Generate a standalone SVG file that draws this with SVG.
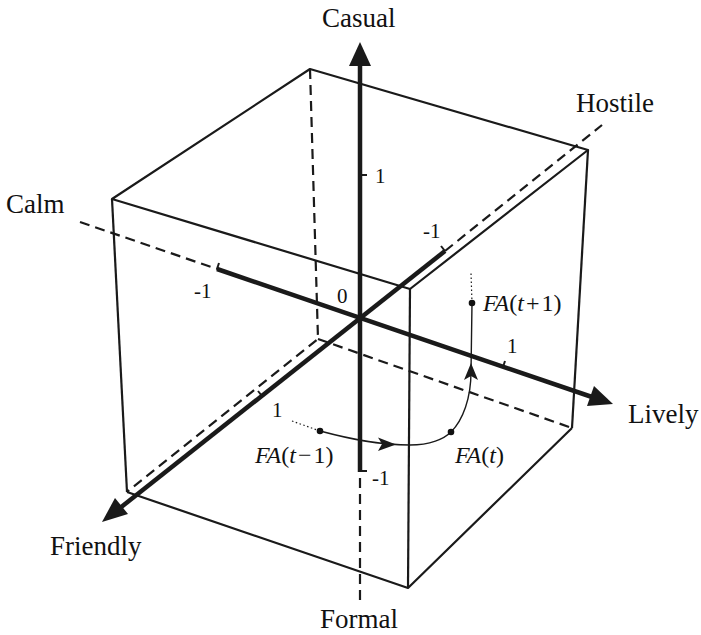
<svg xmlns="http://www.w3.org/2000/svg" width="701" height="635" viewBox="0 0 701 635">
<style>
.edge{fill:none;stroke:#1a1a1a;stroke-width:2.2;stroke-linejoin:round}
.hid{fill:none;stroke:#1a1a1a;stroke-width:2.2;stroke-dasharray:10 6}
.axis{fill:none;stroke:#1a1a1a;stroke-width:4.5}
.tick{fill:none;stroke:#1a1a1a;stroke-width:2}
.head{fill:#1a1a1a;stroke:none}
.lbl{font-family:"Liberation Serif","Times New Roman",serif;font-size:27px;fill:#111}
.num{font-family:"Liberation Serif","Times New Roman",serif;font-size:21px;fill:#111}
.fa{font-family:"Liberation Serif","Times New Roman",serif;font-size:24px;fill:#111}
.it{font-style:italic}
.traj{fill:none;stroke:#1a1a1a;stroke-width:1.4}
.dot{fill:none;stroke:#1a1a1a;stroke-width:1.2;stroke-dasharray:1.5 2.5}
</style>
<g id="cube">
<polyline class="hid" points="310,69 318,339 127,492"/>
<line class="hid" x1="318" y1="339" x2="572" y2="428"/>
<polygon class="edge" points="112,199 310,69 588,150 410,289"/>
<line class="edge" x1="112" y1="199" x2="127" y2="492"/>
<line class="edge" x1="410" y1="289" x2="408" y2="588"/>
<line class="edge" x1="588" y1="150" x2="572" y2="428"/>
<polyline class="edge" points="127,492 408,588 572,428"/>
</g>
<g id="connectors">
<g id="axis-vertical">
<line class="axis" x1="360" y1="64" x2="360" y2="472"/>
<line class="hid" x1="360" y1="478" x2="360" y2="602"/>
<polygon class="head" points="360,42 349,66 371,66"/>
<line class="tick" x1="360" y1="175" x2="367" y2="175"/>
<line class="tick" x1="360" y1="471" x2="367" y2="471"/>
</g>
<g id="axis-calm-lively">
<line class="hid" x1="80" y1="222" x2="217" y2="269"/>
<line class="axis" x1="217" y1="269" x2="592" y2="397"/>
<polygon class="head" points="613,404 587,406 594,386"/>
<line class="tick" x1="217" y1="269" x2="219" y2="263"/>
<line class="tick" x1="503" y1="367" x2="505" y2="361"/>
</g>
<g id="axis-friendly-hostile">
<line class="axis" x1="120" y1="508" x2="445" y2="251"/>
<line class="hid" x1="445" y1="251" x2="602" y2="125"/>
<polygon class="head" points="102,522 128,514 115,498"/>
<line class="tick" x1="445" y1="251" x2="441" y2="246"/>
<line class="tick" x1="262" y1="396" x2="258" y2="391"/>
</g>
<g id="trajectory">
<line class="dot" x1="292" y1="421" x2="320" y2="431"/>
<path class="traj" d="M320,431 C350,439 378,445 410,445 C430,445 444,439 451,432 C463,420 471,398 471,372 L472,303"/>
<line class="dot" x1="472" y1="303" x2="471" y2="273"/>
<polygon class="head" points="396,444.5 378,437.5 382,444 378,451"/>
<polygon class="head" points="471,363 464,380 471,376 478,380"/>
</g>
</g>
<g id="points">
<circle id="fa-tm1" cx="320" cy="431" r="3.3" fill="#111"/>
<circle id="fa-t" cx="451" cy="432" r="3.3" fill="#111"/>
<circle id="fa-tp1" cx="472" cy="303" r="3.3" fill="#111"/>
</g>
<g id="labels">
<text id="casual" class="lbl" x="322" y="27">Casual</text>
<text id="hostile" class="lbl" x="576" y="112">Hostile</text>
<text id="calm" class="lbl" x="6" y="213">Calm</text>
<text id="lively" class="lbl" x="628" y="423">Lively</text>
<text id="friendly" class="lbl" x="50" y="555">Friendly</text>
<text id="formal" class="lbl" x="320" y="628">Formal</text>
<text class="num" x="375" y="183">1</text>
<text class="num" x="372" y="485">-1</text>
<text class="num" x="194" y="298">-1</text>
<text class="num" x="423" y="238">-1</text>
<text class="num" x="507" y="353">1</text>
<text class="num" x="272" y="417">1</text>
<text class="num" x="337" y="303">0</text>
<text class="fa" x="255" y="463"><tspan class="it">FA</tspan>(<tspan class="it">t</tspan><tspan dx="2">−</tspan><tspan dx="2">1)</tspan></text>
<text class="fa" x="455" y="463"><tspan class="it">FA</tspan>(<tspan class="it">t</tspan>)</text>
<text class="fa" x="483" y="311"><tspan class="it">FA</tspan>(<tspan class="it">t</tspan><tspan dx="2">+</tspan><tspan dx="2">1)</tspan></text>
</g>
</svg>
